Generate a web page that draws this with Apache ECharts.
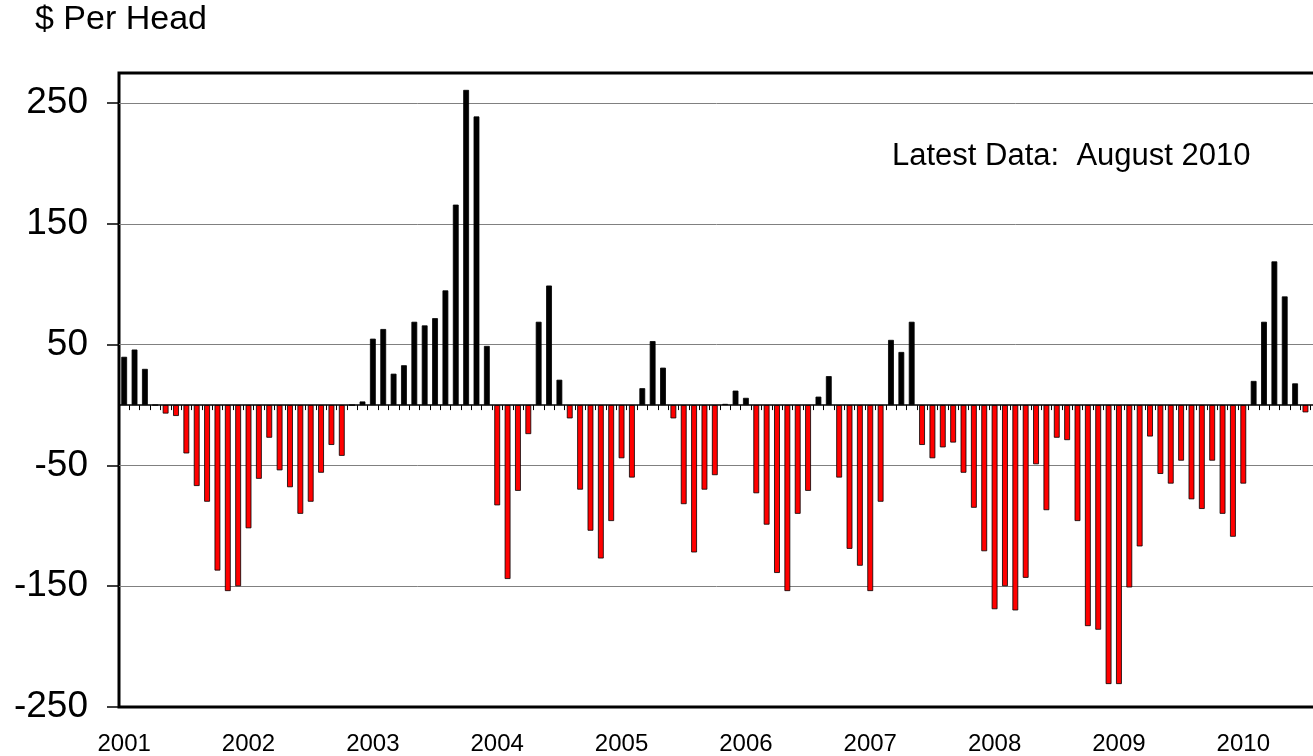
<!DOCTYPE html>
<html>
<head>
<meta charset="utf-8">
<script src="https://cdn.jsdelivr.net/npm/echarts@6/dist/echarts.min.js"></script>
<style>
html,body{margin:0;padding:0;background:#ffffff;}
#chart{width:1313px;height:756px;}
</style>
</head>
<body>
<div id="chart"></div>
<script>
// ---- data ----
const years = [2001, 2002, 2003, 2004, 2005, 2006, 2007, 2008, 2009, 2010];
const monthNames = ['Jan','Feb','Mar','Apr','May','Jun','Jul','Aug','Sep','Oct','Nov','Dec'];
const lastMonthIndex2010 = 7; // August 2010 = latest data

const values2001 = [40, 46, 30, 0, -7, -9, -40, -67, -80, -137, -154, -150];
const values2002 = [-102, -61, -27, -54, -68, -90, -80, -56, -33, -42, 0, 3];
const values2003 = [55, 63, 26, 33, 69, 66, 72, 95, 166, 261, 239, 49];
const values2004 = [-83, -144, -71, -24, 69, 99, 21, -11, -70, -104, -127, -96];
const values2005 = [-44, -60, 14, 53, 31, -11, -82, -122, -70, -58, 1, 12];
const values2006 = [6, -73, -99, -139, -154, -90, -71, 7, 24, -60, -119, -133];
const values2007 = [-154, -80, 54, 44, 69, -33, -44, -35, -31, -56, -85, -121];
const values2008 = [-169, -150, -170, -143, -49, -87, -27, -29, -96, -183, -186, -231];
const values2009 = [-231, -151, -117, -26, -57, -65, -46, -78, -86, -46, -90, -109];
// August 2010 falls outside the cropped picture, so its value is unknown (null)
const values2010 = [-65, 20, 69, 119, 90, 18, -6, null];

const yTicks = [-250, -150, -50, 50, 150, 250];
const yMin = -250, yMax = 275;

const titleText = '$ Per Head';
const noteText = 'Latest Data:  August 2010';

// ---- build categories ----
const categories = [];
const categoryYear = [];
years.forEach(function (y) {
  monthNames.forEach(function (m, mi) {
    if (y === 2010 && mi > lastMonthIndex2010) return;
    categories.push(m + ' ' + y);
    categoryYear.push(String(y));
  });
});
const values = [].concat(values2001, values2002, values2003, values2004, values2005,
  values2006, values2007, values2008, values2009, values2010);

const FONT = 'Liberation Sans, Arial, Helvetica, sans-serif';

const chart = echarts.init(document.getElementById('chart'), null, {renderer: 'canvas'});
chart.setOption({
  animation: false,
  backgroundColor: '#ffffff',
  textStyle: {fontFamily: FONT},
  grid: {
    left: 119, right: -8, top: 73, bottom: 49,
    outerBoundsMode: 'none',
    show: true, borderColor: '#000000', borderWidth: 3, backgroundColor: 'transparent',
    containLabel: false
  },
  xAxis: [
    {
      type: 'category',
      data: categories,
      position: 'bottom',
      boundaryGap: true,
      axisLine: {show: true, onZero: true, lineStyle: {color: '#000000', width: 1.5}},
      axisTick: {show: true, interval: 0, length: 5, inside: false, lineStyle: {color: '#000000', width: 1}},
      axisLabel: {show: false},
      splitLine: {show: false}
    },
    {
      type: 'category',
      data: categories,
      position: 'bottom',
      boundaryGap: true,
      axisLine: {show: false, onZero: false},
      axisTick: {show: false},
      splitLine: {show: false},
      axisLabel: {
        show: true,
        interval: function (idx) { return idx % 12 === 0; },
        formatter: function (v, idx) { return categoryYear[idx]; },
        color: '#000000',
        fontFamily: FONT,
        fontSize: 24,
        margin: 25
      }
    }
  ],
  yAxis: {
    type: 'value',
    min: yMin,
    max: yMax,
    interval: 100,
    axisLine: {show: false},
    axisTick: {show: true, length: 12, inside: false, customValues: yTicks, lineStyle: {color: '#000000', width: 1.5}},
    axisLabel: {
      show: true, customValues: yTicks,
      color: '#000000', fontFamily: FONT, fontSize: 37, margin: 31
    },
    splitLine: {show: true, showMinLine: false, lineStyle: {color: '#808080', width: 1}}
  },
  series: [
    {
      type: 'bar',
      xAxisIndex: 0,
      yAxisIndex: 0,
      data: values,
      barWidth: '56%',
      silent: true,
      itemStyle: {
        color: function (p) { return p.value < 0 ? '#FF0000' : '#000000'; },
        borderColor: '#000000',
        borderWidth: 0.8
      }
    }
  ],
  graphic: [
    {
      type: 'text', left: 35, top: 3, silent: true,
      style: {text: titleText, fontFamily: FONT, fontSize: 34, fill: '#000000'}
    },
    {
      type: 'text', left: 892, top: 141, silent: true,
      style: {text: noteText, fontFamily: FONT, fontSize: 31, fill: '#000000'}
    }
  ]
});
</script>
</body>
</html>
